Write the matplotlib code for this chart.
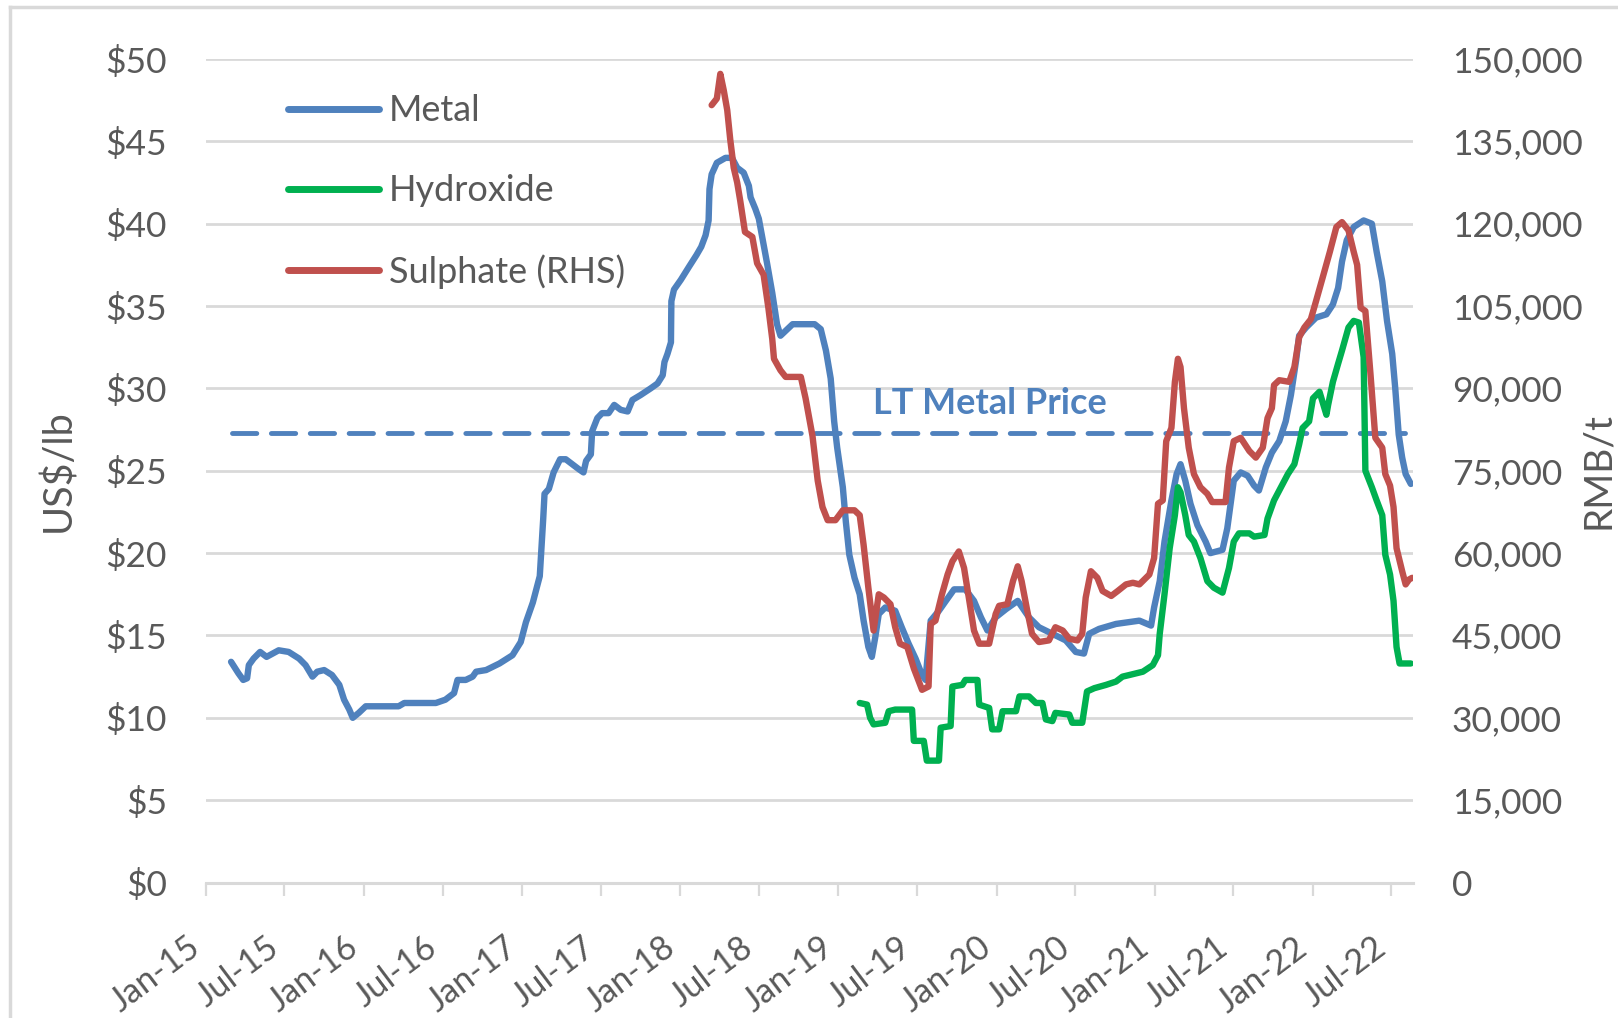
import matplotlib
matplotlib.use("Agg")
import matplotlib.pyplot as plt
import matplotlib.dates as mdates
from matplotlib.lines import Line2D
import pandas as pd

plt.rcParams['font.family'] = ['Lato', 'DejaVu Sans']

# cobalt metal price, US$/lb
metal_dates = ['2015-02-28', '2015-03-17', '2015-03-28', '2015-04-06', '2015-04-10', '2015-04-21',
               '2015-05-06', '2015-05-21', '2015-06-18', '2015-07-11', '2015-08-04', '2015-08-19',
               '2015-09-04', '2015-09-15', '2015-10-01', '2015-10-19', '2015-11-05', '2015-11-16',
               '2015-11-28', '2015-12-06', '2015-12-20', '2016-01-05', '2016-03-21', '2016-04-03',
               '2016-06-15', '2016-07-07', '2016-07-27', '2016-08-04', '2016-08-23', '2016-09-08',
               '2016-09-16', '2016-10-09', '2016-11-09', '2016-12-09', '2016-12-28', '2017-01-09',
               '2017-01-25', '2017-02-10', '2017-02-18', '2017-02-21', '2017-03-03', '2017-03-14',
               '2017-03-29', '2017-04-11', '2017-05-11', '2017-05-22', '2017-05-28', '2017-06-08',
               '2017-06-11', '2017-06-23', '2017-07-04', '2017-07-19', '2017-08-01', '2017-08-16',
               '2017-09-01', '2017-09-12', '2017-10-01', '2017-10-24', '2017-11-09', '2017-11-21',
               '2017-11-25', '2017-12-02', '2017-12-10', '2017-12-11', '2017-12-17', '2018-01-02',
               '2018-01-21', '2018-02-07', '2018-02-18', '2018-02-28', '2018-03-07', '2018-03-09',
               '2018-03-14', '2018-03-26', '2018-04-15', '2018-04-30', '2018-05-12', '2018-05-27',
               '2018-06-08', '2018-06-12', '2018-06-23', '2018-07-01', '2018-07-08', '2018-07-20',
               '2018-08-01', '2018-08-12', '2018-08-20', '2018-09-01', '2018-09-17', '2018-11-07',
               '2018-11-21', '2018-12-03', '2018-12-14', '2018-12-22', '2018-12-29', '2019-01-11',
               '2019-01-18', '2019-01-26', '2019-02-07', '2019-02-19', '2019-02-28', '2019-03-11',
               '2019-03-19', '2019-03-27', '2019-04-04', '2019-04-19', '2019-05-12', '2019-05-27',
               '2019-06-12', '2019-06-28', '2019-07-13', '2019-07-21', '2019-08-02', '2019-08-21',
               '2019-09-06', '2019-09-25', '2019-10-21', '2019-11-10', '2019-11-26', '2019-12-11',
               '2019-12-30', '2020-01-23', '2020-02-19', '2020-03-16', '2020-04-08', '2020-05-09',
               '2020-06-09', '2020-07-02', '2020-07-21', '2020-08-02', '2020-08-25', '2020-10-03',
               '2020-11-26', '2020-12-23', '2020-12-30', '2021-01-12', '2021-01-23', '2021-02-08',
               '2021-02-20', '2021-03-01', '2021-03-12', '2021-03-24', '2021-04-09', '2021-04-28',
               '2021-05-09', '2021-06-06', '2021-06-17', '2021-07-02', '2021-07-18', '2021-08-03',
               '2021-08-18', '2021-08-29', '2021-09-14', '2021-09-28', '2021-10-15', '2021-10-30',
               '2021-11-11', '2021-11-23', '2021-11-30', '2021-12-16', '2022-01-08', '2022-02-01',
               '2022-02-16', '2022-02-28', '2022-03-09', '2022-03-20', '2022-04-05', '2022-04-28',
               '2022-05-17', '2022-05-28', '2022-06-10', '2022-06-21', '2022-07-03', '2022-07-10',
               '2022-07-18', '2022-07-26', '2022-08-03', '2022-08-15']
metal_usd = [13.4, 12.7, 12.3, 12.4, 13.2, 13.6,
             14.0, 13.7, 14.1, 14.0, 13.6, 13.2,
             12.5, 12.8, 12.9, 12.6, 12.0, 11.1,
             10.5, 10.0, 10.3, 10.7, 10.7, 10.9,
             10.9, 11.1, 11.5, 12.3, 12.3, 12.5,
             12.8, 12.9, 13.3, 13.8, 14.6, 15.8,
             17.0, 18.6, 22.1, 23.6, 23.9, 24.9,
             25.7, 25.7, 25.1, 24.9, 25.6, 26.0,
             27.4, 28.2, 28.5, 28.5, 29.0, 28.7,
             28.6, 29.3, 29.6, 30.0, 30.3, 30.8,
             31.6, 32.1, 32.8, 35.3, 36.0, 36.6,
             37.4, 38.1, 38.6, 39.3, 40.2, 42.1,
             43.0, 43.7, 44.0, 44.0, 43.4, 43.1,
             42.3, 41.6, 40.9, 40.3, 39.3, 37.6,
             35.8, 33.9, 33.2, 33.5, 33.9, 33.9,
             33.6, 32.3, 30.6, 28.0, 26.4, 24.0,
             21.9, 19.9, 18.5, 17.5, 15.9, 14.3,
             13.7, 14.9, 16.3, 16.7, 16.5, 15.5,
             14.5, 13.6, 12.6, 12.3, 15.9, 16.5,
             17.1, 17.8, 17.8, 17.1, 16.1, 15.3,
             16.1, 16.6, 17.1, 16.1, 15.5, 15.1,
             14.7, 14.0, 13.9, 15.1, 15.4, 15.7,
             15.9, 15.6, 16.7, 18.3, 20.7, 23.2,
             24.8, 25.4, 24.4, 23.0, 21.7, 20.7,
             20.0, 20.2, 21.5, 24.4, 24.9, 24.7,
             24.1, 23.8, 25.2, 26.1, 26.8, 28.0,
             29.6, 31.7, 33.2, 33.7, 34.3, 34.5,
             35.1, 36.1, 37.7, 39.0, 39.8, 40.2,
             40.0, 38.3, 36.5, 34.1, 32.1, 30.0,
             27.2, 25.8, 24.8, 24.2]

# cobalt hydroxide, US$/lb
hydroxide_dates = ['2019-02-19', '2019-03-08', '2019-03-15', '2019-03-23', '2019-04-19', '2019-04-27',
                   '2019-05-12', '2019-06-20', '2019-06-24', '2019-07-17', '2019-07-24', '2019-08-21',
                   '2019-08-25', '2019-09-17', '2019-09-21', '2019-10-14', '2019-10-21', '2019-11-18',
                   '2019-11-22', '2019-12-15', '2019-12-22', '2020-01-07', '2020-01-15', '2020-02-15',
                   '2020-02-23', '2020-03-16', '2020-04-01', '2020-04-16', '2020-04-24', '2020-05-09',
                   '2020-05-16', '2020-06-17', '2020-06-24', '2020-07-17', '2020-07-28', '2020-08-14',
                   '2020-09-10', '2020-10-03', '2020-10-18', '2020-11-03', '2020-12-04', '2020-12-27',
                   '2021-01-08', '2021-01-12', '2021-01-23', '2021-02-04', '2021-02-16', '2021-02-23',
                   '2021-03-01', '2021-03-12', '2021-03-20', '2021-04-01', '2021-04-16', '2021-05-02',
                   '2021-05-17', '2021-06-06', '2021-06-21', '2021-07-02', '2021-07-14', '2021-08-07',
                   '2021-08-18', '2021-09-11', '2021-09-18', '2021-10-03', '2021-10-19', '2021-11-04',
                   '2021-11-19', '2021-11-30', '2021-12-08', '2021-12-23', '2022-01-01', '2022-01-16',
                   '2022-02-01', '2022-02-05', '2022-02-16', '2022-02-28', '2022-03-09', '2022-03-24',
                   '2022-04-05', '2022-04-17', '2022-04-28', '2022-05-02', '2022-05-17', '2022-05-28',
                   '2022-06-10', '2022-06-17', '2022-06-28', '2022-07-06', '2022-07-13', '2022-07-20',
                   '2022-08-15']
hydroxide_usd = [10.9, 10.8, 10.0, 9.6, 9.7, 10.4,
                 10.5, 10.5, 8.6, 8.6, 7.4, 7.4,
                 9.4, 9.5, 11.9, 12.0, 12.3, 12.3,
                 10.8, 10.6, 9.3, 9.3, 10.4, 10.4,
                 11.3, 11.3, 10.9, 10.9, 9.9, 9.8,
                 10.3, 10.2, 9.7, 9.7, 11.6, 11.8,
                 12.0, 12.2, 12.5, 12.6, 12.8, 13.2,
                 13.8, 15.1, 17.5, 20.3, 22.3, 24.0,
                 23.7, 22.3, 21.1, 20.7, 19.7, 18.3,
                 17.9, 17.6, 19.1, 20.7, 21.2, 21.2,
                 21.0, 21.1, 22.1, 23.2, 24.0, 24.8,
                 25.4, 26.6, 27.6, 28.0, 29.4, 29.8,
                 28.4, 29.0, 30.4, 31.5, 32.3, 33.7,
                 34.1, 34.0, 31.9, 25.0, 24.0, 23.2,
                 22.3, 19.9, 18.7, 17.1, 14.3, 13.3,
                 13.3]

# cobalt sulphate, RMB/t (right-hand axis)
sulphate_dates = ['2018-03-14', '2018-03-26', '2018-04-03', '2018-04-11', '2018-04-19', '2018-04-26',
                  '2018-05-04', '2018-05-12', '2018-05-19', '2018-05-30', '2018-06-16', '2018-06-27',
                  '2018-07-12', '2018-07-23', '2018-08-01', '2018-08-05', '2018-08-20', '2018-09-01',
                  '2018-10-06', '2018-10-17', '2018-11-02', '2018-11-14', '2018-11-25', '2018-12-07',
                  '2018-12-25', '2019-01-11', '2019-02-07', '2019-02-19', '2019-02-28', '2019-03-11',
                  '2019-03-23', '2019-04-04', '2019-04-16', '2019-05-01', '2019-05-12', '2019-05-23',
                  '2019-06-09', '2019-06-24', '2019-07-13', '2019-07-28', '2019-08-02', '2019-08-13',
                  '2019-08-28', '2019-09-10', '2019-09-21', '2019-10-06', '2019-10-18', '2019-10-29',
                  '2019-11-10', '2019-11-22', '2019-12-15', '2019-12-30', '2020-01-07', '2020-01-26',
                  '2020-02-08', '2020-02-19', '2020-02-28', '2020-03-12', '2020-03-23', '2020-04-08',
                  '2020-05-01', '2020-05-16', '2020-06-02', '2020-06-17', '2020-07-06', '2020-07-17',
                  '2020-07-25', '2020-08-06', '2020-08-21', '2020-09-02', '2020-09-22', '2020-10-07',
                  '2020-10-26', '2020-11-11', '2020-11-26', '2020-12-19', '2020-12-30', '2021-01-08',
                  '2021-01-19', '2021-01-27', '2021-02-08', '2021-02-16', '2021-02-23', '2021-03-01',
                  '2021-03-09', '2021-03-20', '2021-04-01', '2021-04-16', '2021-05-02', '2021-05-13',
                  '2021-06-13', '2021-06-21', '2021-07-02', '2021-07-18', '2021-08-07', '2021-08-22',
                  '2021-09-07', '2021-09-18', '2021-09-28', '2021-10-03', '2021-10-15', '2021-11-07',
                  '2021-11-19', '2021-11-30', '2021-12-12', '2021-12-27', '2022-01-08', '2022-01-23',
                  '2022-02-09', '2022-02-24', '2022-03-09', '2022-03-24', '2022-04-05', '2022-04-13',
                  '2022-04-21', '2022-05-02', '2022-05-14', '2022-05-25', '2022-06-10', '2022-06-17',
                  '2022-06-28', '2022-07-06', '2022-07-13', '2022-07-26', '2022-08-03', '2022-08-11',
                  '2022-08-18']
sulphate_rmb = [141600, 142800, 147300, 144300, 140700, 135300,
                130200, 127500, 124200, 118500, 117600, 112800,
                110700, 104700, 99000, 95400, 93300, 92100,
                92100, 88200, 81300, 73200, 68400, 66000,
                66000, 67800, 67800, 66900, 61500, 53700,
                45900, 52500, 51900, 50700, 46500, 43500,
                42900, 39000, 35100, 35700, 47100, 47700,
                52500, 56100, 58500, 60300, 57300, 51900,
                45900, 43500, 43500, 48900, 50400, 50700,
                54900, 57600, 54900, 49500, 45300, 43800,
                44100, 46500, 45900, 44400, 44100, 45300,
                51900, 56700, 55500, 53100, 52200, 53100,
                54300, 54600, 54300, 56100, 59100, 69000,
                69600, 80400, 82800, 91200, 95400, 93900,
                86400, 79200, 74400, 72000, 70800, 69300,
                69300, 75600, 80400, 81000, 78600, 77400,
                79200, 84600, 86400, 90600, 91500, 91200,
                93900, 99300, 101100, 102600, 105900, 110100,
                114900, 119400, 120300, 118800, 114900, 112500,
                104700, 104100, 92400, 81000, 79200, 74400,
                72300, 68400, 60900, 56700, 54300, 55200,
                55500]

lt_metal_price = 27.3
lt_dates = ['2015-03-01', '2022-08-01']

usd_ticks = list(range(0, 51, 5))
rmb_ticks = list(range(0, 150001, 15000))

grey_text = '#595959'
grid_grey = '#D9D9D9'
blue = '#4F81BD'
green = '#00B050'
red = '#C0504D'

fig = plt.figure(figsize=(16.18, 10.18), dpi=100)
ax = fig.add_axes([0.1273, 0.1331, 0.746, 0.8089])

# long-term price reference
ax.plot(pd.to_datetime(lt_dates), [lt_metal_price] * 2, color=blue, lw=3.5,
        dashes=(5.0, 3.0), dash_capstyle='round', zorder=2)
ax.text(pd.Timestamp('2019-03-22'), lt_metal_price + 0.8, 'LT Metal Price', color=blue,
        fontsize=26, fontweight='bold', ha='left', va='bottom')

line_kw = dict(lw=4.6, solid_joinstyle='round', solid_capstyle='round')
ax.plot(pd.to_datetime(metal_dates), metal_usd, color=blue, zorder=3, **line_kw)
ax.plot(pd.to_datetime(hydroxide_dates), hydroxide_usd, color=green, zorder=4, **line_kw)

ax2 = ax.twinx()
ax2.plot(pd.to_datetime(sulphate_dates), sulphate_rmb, color=red, **line_kw)

ax.set_xlim(pd.Timestamp('2015-01-01'), pd.Timestamp('2022-08-20'))
ax.set_ylim(0, 50)
ax2.set_ylim(0, 150000)

ax.set_yticks(usd_ticks)
ax.set_yticklabels(['${}'.format(t) for t in usd_ticks])
ax2.set_yticks(rmb_ticks)
ax2.set_yticklabels(['{:,}'.format(t) for t in rmb_ticks])

ax.xaxis.set_major_locator(mdates.MonthLocator(bymonth=[1, 7]))
ax.xaxis.set_major_formatter(mdates.DateFormatter('%b-%y'))
plt.setp(ax.get_xticklabels(), rotation=37, ha='right', va='top', rotation_mode='default')

for a in (ax, ax2):
    for s in a.spines.values():
        s.set_visible(False)
    a.tick_params(axis='y', length=0, labelsize=25.5, labelcolor=grey_text, pad=28)
ax.spines['bottom'].set_visible(True)
ax.spines['bottom'].set_color(grid_grey)
ax.spines['bottom'].set_linewidth(2.2)
ax.tick_params(axis='x', length=9, width=1.6, color=grid_grey, labelsize=24.5,
               labelcolor=grey_text, pad=26)

ax.yaxis.grid(True, color=grid_grey, lw=2.0)
ax.set_axisbelow(True)

ax.set_ylabel('US$/lb', fontsize=28.5, color=grey_text, labelpad=20)
ax2.set_ylabel('RMB/t', fontsize=28, color=grey_text)
ax2.yaxis.set_label_coords(1.138, 0.5)

handles = [Line2D([], [], color=blue, lw=5, solid_capstyle='round'),
           Line2D([], [], color=green, lw=5, solid_capstyle='round'),
           Line2D([], [], color=red, lw=5, solid_capstyle='round')]
leg = fig.legend(handles, ['Metal', 'Hydroxide', 'Sulphate (RHS)'], loc='upper left',
                 bbox_to_anchor=(0.167, 0.925), frameon=False, fontsize=26,
                 handlelength=2.5, handletextpad=0.28, labelspacing=1.3, borderpad=0)
for t in leg.get_texts():
    t.set_color(grey_text)

# outer chart frame (top and left edges visible)
fig.add_artist(Line2D([0.0062, 0.0062], [0.0, 0.9931], color=grid_grey, lw=2.5))
fig.add_artist(Line2D([0.0062, 1.0], [0.9931, 0.9931], color=grid_grey, lw=2.5))

fig.savefig('out.png', dpi=100)
